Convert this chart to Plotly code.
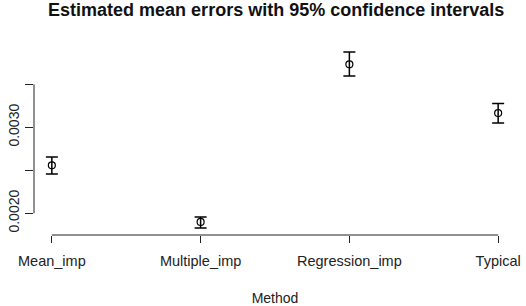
import plotly.graph_objects as go

methods = ["Mean_imp", "Multiple_imp", "Regression_imp", "Typical"]
mean_err = [0.002558, 0.001899, 0.003733, 0.003166]
upper = [0.002655, 0.001957, 0.003876, 0.003276]
lower = [0.002457, 0.001829, 0.003597, 0.003050]
y_ticks = [0.0020, 0.0025, 0.0030, 0.0035]
y_labels = ["0.0020", "", "0.0030", ""]

err_plus = [u - m for u, m in zip(upper, mean_err)]
err_minus = [m - l for m, l in zip(mean_err, lower)]

# R-style 4% axis extension
ymin, ymax = min(lower), max(upper)
yext = (ymax - ymin) * 0.04
n = len(methods)
xext = (n - 1) * 0.04

fig = go.Figure()
fig.add_trace(go.Scatter(
    x=list(range(n)), y=mean_err, mode="markers",
    marker=dict(symbol="circle-open", size=7, color="black", line=dict(width=1.2)),
    error_y=dict(type="data", symmetric=False, array=err_plus, arrayminus=err_minus,
                 color="black", thickness=1.5, width=6),
    showlegend=False,
))

font = "Liberation Sans, Arial, sans-serif"
fig.update_layout(
    width=526, height=306,
    margin=dict(l=34, r=10, t=45, b=71),
    paper_bgcolor="white", plot_bgcolor="white",
    title=dict(text="<b>Estimated mean errors with 95% confidence intervals</b>",
               x=0.525, xanchor="center", y=0.967, yanchor="middle",
               font=dict(family=font, size=18, color="#111")),
    font=dict(family=font, color="#222"),
    xaxis=dict(range=[-xext, n - 1 + xext], tickvals=list(range(n)), ticktext=methods,
               showgrid=False, zeroline=False, showline=False, automargin=False,
               ticks="outside", ticklen=7, tickcolor="#222", tickwidth=1,
               ticklabelstandoff=6,
               tickfont=dict(size=14.5, color="#222"),
               title=dict(text="Method", font=dict(size=14, color="#222"), standoff=30)),
    yaxis=dict(range=[ymin - yext, ymax + yext], tickvals=y_ticks, ticktext=y_labels,
               showgrid=False, zeroline=False, showline=False, automargin=False,
               ticks="outside", ticklen=8, tickcolor="#222", tickwidth=1,
               tickangle=-90, tickfont=dict(size=14, color="#222")),
)
# R-style axis lines spanning only the ticks
fig.add_shape(type="line", xref="paper", yref="y", x0=0, x1=0,
              y0=y_ticks[0], y1=y_ticks[-1], line=dict(color="#222", width=1))
fig.add_shape(type="line", xref="x", yref="paper", x0=0, x1=n - 1,
              y0=0, y1=0, line=dict(color="#222", width=1))

fig.write_html("out.html", config={"displayModeBar": False},
               post_script="document.body.style.margin='0';")
